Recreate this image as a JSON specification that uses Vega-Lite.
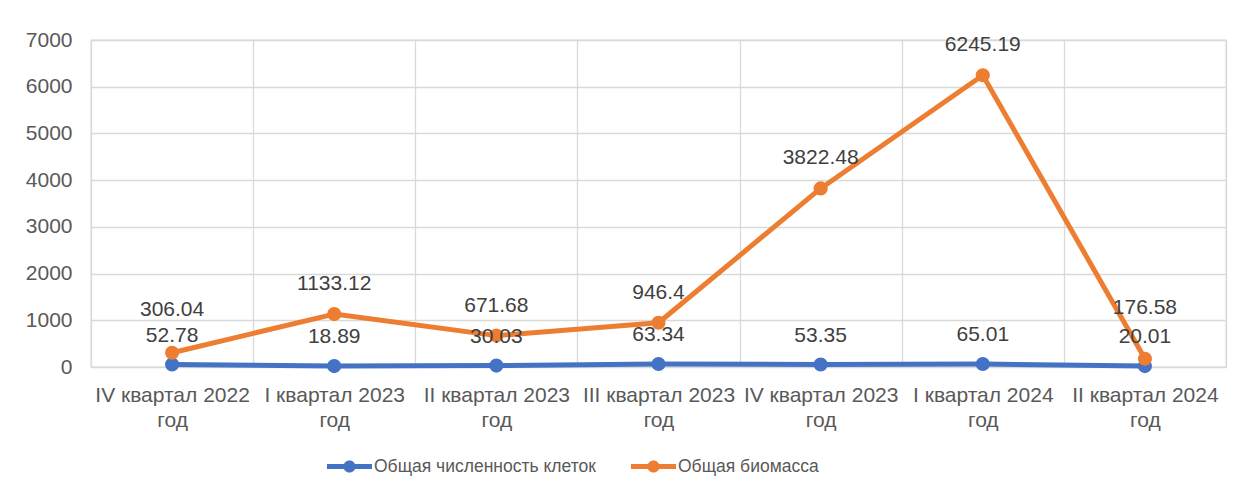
{
  "$schema": "https://vega.github.io/schema/vega-lite/v6.json",
  "autosize": "none",
  "width": 1135,
  "height": 327,
  "padding": {"left": 91, "top": 40, "right": 19, "bottom": 130},
  "background": "white",
  "config": {
    "font": "Liberation Sans",
    "view": {"stroke": "#d9d9d9", "strokeWidth": 1.3},
    "axis": {"labelFont": "Liberation Sans", "labelColor": "#595959", "labelFontSize": 21, "gridColor": "#d9d9d9", "gridWidth": 1.3, "domain": false, "ticks": false, "title": null}
  },
  "data": {"values": [
    {"cat": "IV квартал 2022 год", "series": "Общая численность клеток", "value": 52.78},
    {"cat": "I квартал 2023 год", "series": "Общая численность клеток", "value": 18.89},
    {"cat": "II квартал 2023 год", "series": "Общая численность клеток", "value": 30.03},
    {"cat": "III квартал 2023 год", "series": "Общая численность клеток", "value": 63.34},
    {"cat": "IV квартал 2023 год", "series": "Общая численность клеток", "value": 53.35},
    {"cat": "I квартал 2024 год", "series": "Общая численность клеток", "value": 65.01},
    {"cat": "II квартал 2024 год", "series": "Общая численность клеток", "value": 20.01},
    {"cat": "IV квартал 2022 год", "series": "Общая биомасса", "value": 306.04},
    {"cat": "I квартал 2023 год", "series": "Общая биомасса", "value": 1133.12},
    {"cat": "II квартал 2023 год", "series": "Общая биомасса", "value": 671.68},
    {"cat": "III квартал 2023 год", "series": "Общая биомасса", "value": 946.4},
    {"cat": "IV квартал 2023 год", "series": "Общая биомасса", "value": 3822.48},
    {"cat": "I квартал 2024 год", "series": "Общая биомасса", "value": 6245.19},
    {"cat": "II квартал 2024 год", "series": "Общая биомасса", "value": 176.58}
  ]},
  "encoding": {
    "x": {"field": "cat", "type": "nominal", "sort": null, "scale": {"paddingInner": 0, "paddingOuter": 0},
      "axis": {"labelAngle": 0, "tickBand": "extent", "grid": true, "labelPadding": 17, "labelLineHeight": 25, "labelBaseline": "top",
        "labelFlush": false, "labelAlign": "center", "labelOverlap": false, "labelLimit": 0,
        "labelExpr": "datum.label ? [replace(datum.label, ' год', ''), 'год'] : ''"}},
    "y": {"field": "value", "type": "quantitative", "scale": {"domain": [0, 7000], "nice": false},
      "axis": {"values": [0, 1000, 2000, 3000, 4000, 5000, 6000, 7000], "format": "d", "labelPadding": 19, "grid": true}},
    "color": {"field": "series", "type": "nominal", "sort": ["Общая численность клеток", "Общая биомасса"],
      "scale": {"domain": ["Общая численность клеток", "Общая биомасса"], "range": ["#4472C4", "#ED7D31"]},
      "legend": {"title": null, "orient": "none", "direction": "horizontal", "legendX": 236, "legendY": 404, "padding": 0,
        "symbolType": "M-1,-0.11L-0.2,-0.11L-0.2,0.11L-1,0.11Z M0.2,-0.11L1,-0.11L1,0.11L0.2,0.11Z M-0.27,0A0.27,0.27 0 1,1 0.27,0A0.27,0.27 0 1,1 -0.27,0Z",
        "symbolSize": 2025, "symbolStrokeWidth": 0, "labelFontSize": 17.5, "labelColor": "#595959", "labelOffset": 2, "columnPadding": 35,
        "labelFont": "Liberation Sans", "labelLimit": 0,
        "encode": {"symbols": {"update": {"fill": {"scale": "color", "field": "value"}, "fillOpacity": {"value": 1}, "strokeWidth": {"value": 0}}}}}}
  },
  "layer": [
    {"mark": {"type": "line", "strokeWidth": 5, "strokeCap": "round", "strokeJoin": "round"}},
    {"mark": {"type": "point", "filled": true, "size": 200, "opacity": 1}},
    {"transform": [{"filter": "datum.series == 'Общая численность клеток'"}],
      "mark": {"type": "text", "dy": -29, "fontSize": 21, "font": "Liberation Sans"},
      "encoding": {"text": {"field": "value", "type": "nominal"}, "color": {"value": "#404040"}}},
    {"transform": [{"filter": "datum.series == 'Общая биомасса' && datum.cat != 'IV квартал 2022 год' && datum.cat != 'II квартал 2024 год'"}],
      "mark": {"type": "text", "dy": -30, "fontSize": 21, "font": "Liberation Sans"},
      "encoding": {"text": {"field": "value", "type": "nominal"}, "color": {"value": "#404040"}}},
    {"transform": [{"filter": "datum.series == 'Общая биомасса' && datum.cat == 'IV квартал 2022 год'"}],
      "mark": {"type": "text", "dy": -43, "fontSize": 21, "font": "Liberation Sans"},
      "encoding": {"text": {"field": "value", "type": "nominal"}, "color": {"value": "#404040"}}},
    {"transform": [{"filter": "datum.series == 'Общая биомасса' && datum.cat == 'II квартал 2024 год'"}],
      "mark": {"type": "text", "dy": -51, "fontSize": 21, "font": "Liberation Sans"},
      "encoding": {"text": {"field": "value", "type": "nominal"}, "color": {"value": "#404040"}}}
  ]
}
